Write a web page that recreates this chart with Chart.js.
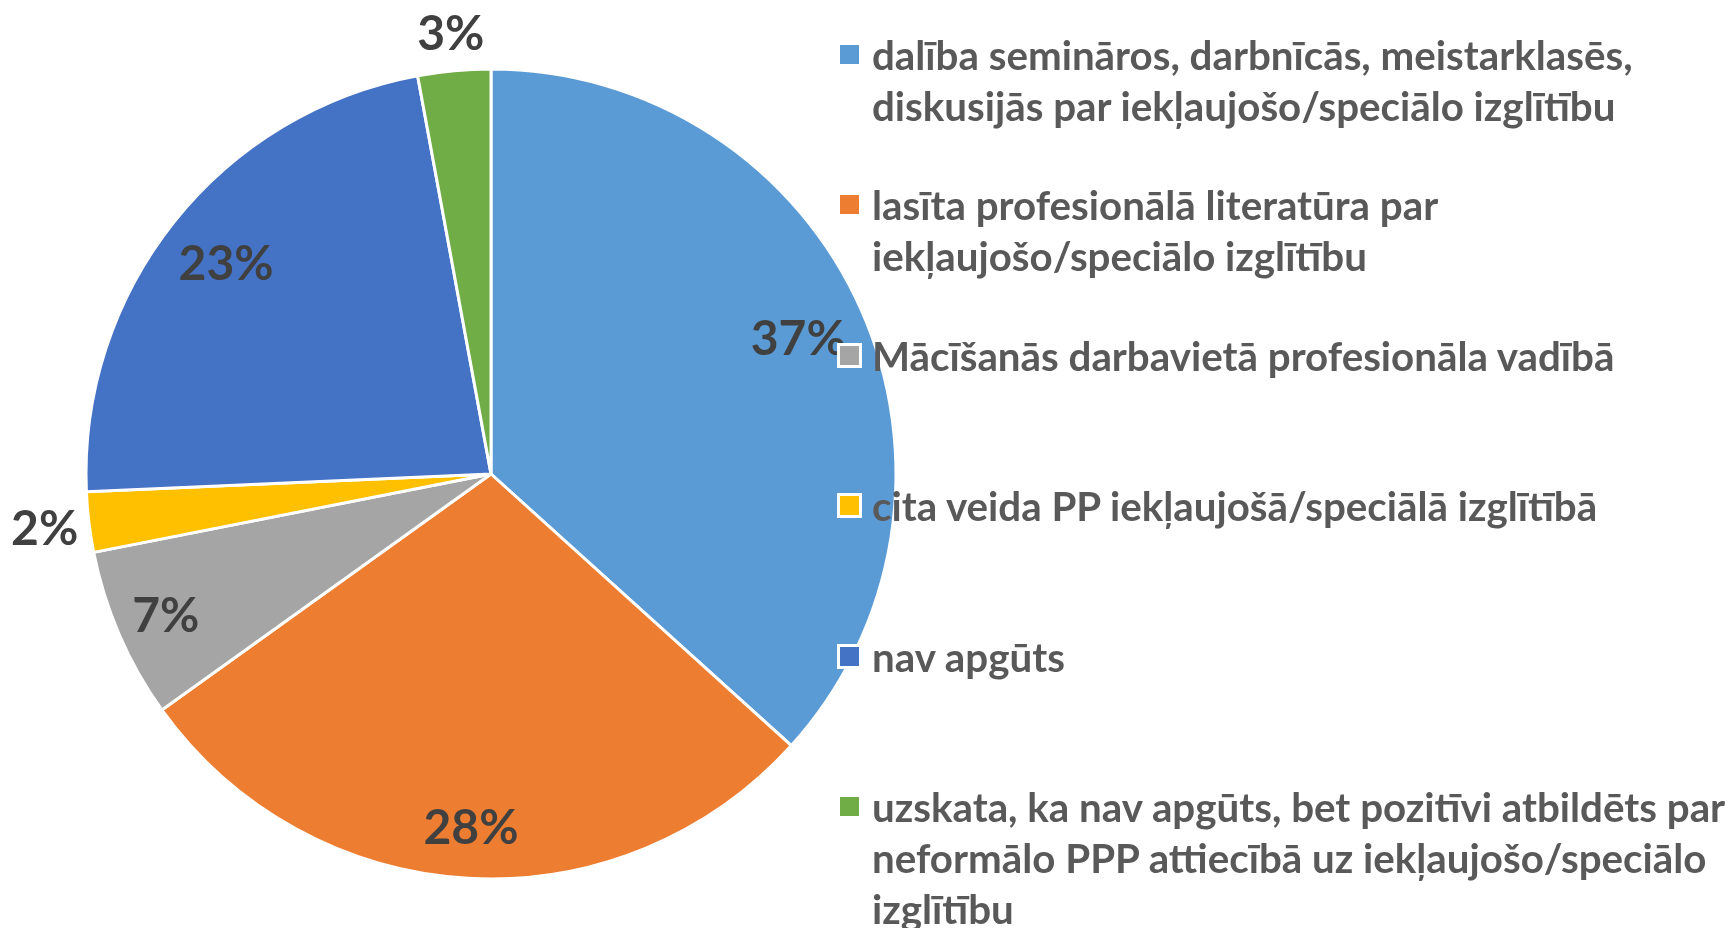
<!DOCTYPE html>
<html>
<head>
<meta charset="utf-8">
<script src="https://cdn.jsdelivr.net/npm/chart.js@4/dist/chart.umd.min.js"></script>
<style>
  html, body { margin: 0; padding: 0; background: #fff; }
  body { width: 1729px; height: 928px; position: relative; overflow: hidden; }
  #wrap { position: absolute; left: 0; top: 0; width: 982px; height: 928px; }
  #legend {
    position: absolute; left: 837px; top: 29px; width: 892px;
    display: grid; grid-auto-rows: 150.4px;
    font-family: Lato, "Open Sans", sans-serif;
    font-weight: bold; font-size: 40.3px; line-height: 51px; color: #595959;
  }
  .item { display: flex; align-items: flex-start; }
  .box { flex: 0 0 auto; width: 19px; height: 19px; border: 3px solid #fff; margin-top: 13px; margin-right: 10px; }
  .txt { white-space: pre; }
</style>
</head>
<body>
<div id="wrap"><canvas id="c"></canvas></div>
<div id="legend"></div>
<script>
const categories = [
  "dalība semināros, darbnīcās, meistarklasēs,\ndiskusijās par iekļaujošo/speciālo izglītību",
  "lasīta profesionālā literatūra par\niekļaujošo/speciālo izglītību",
  "Mācīšanās darbavietā profesionāla vadībā",
  "cita veida PP iekļaujošā/speciālā izglītībā",
  "nav apgūts",
  "uzskata, ka nav apgūts, bet pozitīvi atbildēts par\nneformālo PPP attiecībā uz iekļaujošo/speciālo\nizglītību"
];
const shares = [36.7, 28.4, 6.8, 2.4, 22.8, 2.9];
const colors = ["#5B9BD5", "#ED7D31", "#A5A5A5", "#FFC000", "#4472C4", "#70AD47"];

const labelSize = 48;
const labelFont = "bold " + labelSize + "px Lato, 'Open Sans', sans-serif";

const pctLabels = {
  id: 'pctLabels',
  afterDatasetsDraw(chart, args, opts) {
    const ctx = chart.ctx;
    const meta = chart.getDatasetMeta(0);
    const data = chart.data.datasets[0].data;
    ctx.save();
    ctx.font = labelFont;
    ctx.fillStyle = "#404040";
    ctx.textAlign = "center";
    ctx.textBaseline = "alphabetic";
    meta.data.forEach((arc, i) => {
      const p = arc.getProps(['x', 'y', 'startAngle', 'endAngle', 'outerRadius'], true);
      const mid = (p.startAngle + p.endAngle) / 2;
      const r = p.outerRadius * opts.radial[i];
      const x = p.x + Math.cos(mid) * r;
      const y = p.y + Math.sin(mid) * r;
      ctx.fillText(Math.round(data[i]) + "%", x, y + labelSize * 0.36);
    });
    ctx.restore();
  }
};

new Chart(document.getElementById('c'), {
  type: 'pie',
  data: {
    labels: categories,
    datasets: [{
      data: shares,
      backgroundColor: colors,
      borderColor: "#ffffff",
      borderWidth: 3,
      radius: 405
    }]
  },
  options: {
    responsive: true,
    maintainAspectRatio: false,
    animation: false,
    layout: { padding: { top: 20 } },
    plugins: {
      legend: { display: false },
      tooltip: { enabled: false },
      pctLabels: { radial: [0.83, 0.873, 0.875, 1.11, 0.836, 1.093] }
    }
  },
  plugins: [pctLabels]
});

const legend = document.getElementById('legend');
categories.forEach((name, i) => {
  const item = document.createElement('div');
  item.className = 'item';
  const box = document.createElement('div');
  box.className = 'box';
  box.style.background = colors[i];
  const txt = document.createElement('div');
  txt.className = 'txt';
  txt.textContent = name;
  item.appendChild(box);
  item.appendChild(txt);
  legend.appendChild(item);
});
</script>
</body>
</html>
